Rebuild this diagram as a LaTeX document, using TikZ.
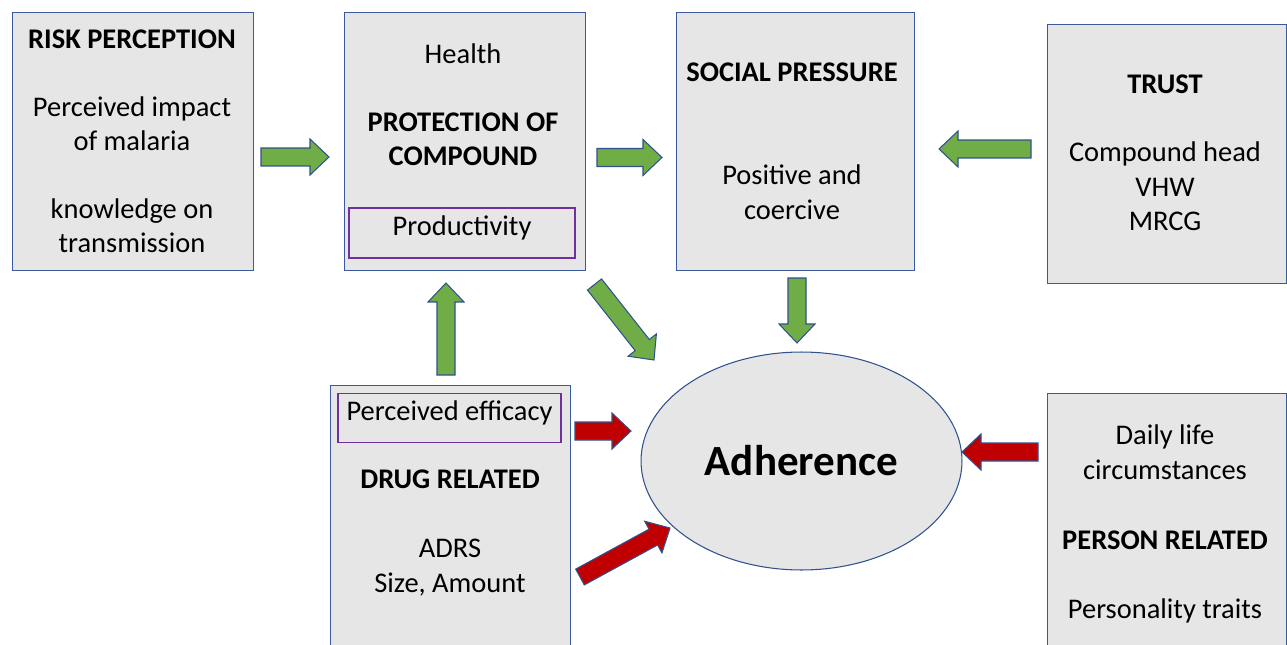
\documentclass[tikz,border=0pt]{standalone}
\usepackage{fontspec}
\setmainfont{Carlito}
\usepackage{tikz}
\usetikzlibrary{calc,shapes.geometric}

\definecolor{boxgray}{HTML}{E7E6E6}
\definecolor{boxblue}{HTML}{3B5A9A}
\definecolor{innerpurple}{HTML}{7030A0}
\definecolor{arrowgreen}{HTML}{70AD47}
\definecolor{arrowred}{HTML}{C00000}
\definecolor{arrowline}{HTML}{2F528F}

\tikzset{
  box/.style={draw=boxblue,fill=boxgray,line width=0.8pt,inner sep=0pt,anchor=north west},
  innerbox/.style={draw=innerpurple,line width=0.8pt,inner sep=0pt,
    text height=0.7em,text depth=0.45em,font=\fontsize{16.2}{19.8}\selectfont},
  lbl/.style={font=\fontsize{16.2}{19.8}\selectfont,align=center,inner sep=0pt,anchor=base},
  blockarrow/.style={draw=arrowline,line width=0.6pt,to path={
    ($(\tikztostart)!0.18cm!90:(\tikztotarget)$)
    -- ($(\tikztotarget)!0.38cm!(\tikztostart)!0.18cm!90:(\tikztotarget)$)
    -- ($(\tikztotarget)!0.38cm!(\tikztostart)!0.36cm!90:(\tikztotarget)$)
    -- (\tikztotarget)
    -- ($(\tikztotarget)!0.38cm!(\tikztostart)!0.36cm!-90:(\tikztotarget)$)
    -- ($(\tikztotarget)!0.38cm!(\tikztostart)!0.18cm!-90:(\tikztotarget)$)
    -- ($(\tikztostart)!0.18cm!-90:(\tikztotarget)$) -- cycle}},
  garrow/.style={blockarrow,fill=arrowgreen},
  rarrow/.style={blockarrow,fill=arrowred}
}

\begin{document}
\begin{tikzpicture}[x=0.02cm,y=-0.02cm]
  \useasboundingbox (0,0) rectangle (1287,645);

  % Boxes
  \node[box,minimum width=4.82cm,minimum height=5.16cm] (risk) at (12,12) {};
  \node[box,minimum width=4.82cm,minimum height=5.16cm] (protection) at (344,12) {};
  \node[box,minimum width=4.76cm,minimum height=5.16cm] (social) at (676,12) {};
  \node[box,minimum width=4.78cm,minimum height=5.18cm] (trust) at (1047,24) {};
  \node[box,minimum width=4.80cm,minimum height=5.60cm] (drug) at (330,385) {};
  \node[box,minimum width=4.78cm,minimum height=5.60cm] (person) at (1047,393) {};

  % Adherence
  \node[draw=arrowline,fill=boxgray,ellipse,line width=0.6pt,inner sep=0pt,
        minimum width=6.42cm,minimum height=4.36cm,
        font=\fontsize{24.5}{30}\selectfont\bfseries] (adherence) at (801.5,461) {Adherence};

  % Risk perception (base = last line)
  \node[lbl,font=\fontsize{16.2}{19.8}\selectfont\bfseries] (riskhead) at (132,49) {RISK PERCEPTION};
  \node[lbl] (riskimpact) at (132,151) {Perceived impact\\of malaria};
  \node[lbl] (riskknow) at (132,253) {knowledge on\\transmission};

  % Protection of compound
  \node[lbl] (health) at (463,64) {Health};
  \node[lbl,font=\fontsize{16.2}{19.8}\selectfont\bfseries] (prothead) at (463,166) {PROTECTION OF\\COMPOUND};
  \node[innerbox,minimum width=4.52cm,minimum height=1.0cm] (productivity) at (462,233) {Productivity};

  % Social pressure
  \node[lbl,font=\fontsize{16.2}{19.8}\selectfont\bfseries] (socialhead) at (792,82) {SOCIAL PRESSURE};
  \node[lbl] (positive) at (792,219) {Positive and\\coercive};

  % Trust
  \node[lbl,font=\fontsize{16.2}{19.8}\selectfont\bfseries] (trusthead) at (1165,94) {TRUST};
  \node[lbl] (trustwho) at (1165,231) {Compound head\\VHW\\MRCG};

  % Drug related
  \node[innerbox,minimum width=4.46cm,minimum height=0.98cm] (efficacy) at (449.5,418) {Perceived efficacy};
  \node[lbl,font=\fontsize{16.2}{19.8}\selectfont\bfseries] (drughead) at (450,488) {DRUG RELATED};
  \node[lbl] (adrs) at (450,592) {ADRS\\Size, Amount};

  % Person related
  \node[lbl] (daily) at (1165,479) {Daily life\\circumstances};
  \node[lbl,font=\fontsize{16.2}{19.8}\selectfont\bfseries] (personhead) at (1165,549) {PERSON RELATED};
  \node[lbl] (traits) at (1165,618) {Personality traits};

  % Arrow ends
  \coordinate (g1s) at (261,157);   \coordinate (g1e) at (329,157);
  \coordinate (g2s) at (597,157.5); \coordinate (g2e) at (662,157.5);
  \coordinate (g3s) at (1031,149);  \coordinate (g3e) at (939,149);
  \coordinate (g4s) at (446,375);   \coordinate (g4e) at (446,283);
  \coordinate (g5s) at (594.5,284.5); \coordinate (g5e) at (654,360);
  \coordinate (g6s) at (797,278);   \coordinate (g6e) at (797,343);
  \coordinate (r1s) at (575,431);   \coordinate (r1e) at (631,431);
  \coordinate (r2s) at (580,577);   \coordinate (r2e) at (670,528);
  \coordinate (r3s) at (1038,452);  \coordinate (r3e) at (962,452);

  % Arrows
  \draw[garrow] (g1s) to (g1e);
  \draw[garrow] (g2s) to (g2e);
  \draw[garrow] (g3s) to (g3e);
  \draw[garrow] (g4s) to (g4e);
  \draw[garrow] (g5s) to (g5e);
  \draw[garrow] (g6s) to (g6e);
  \draw[rarrow] (r1s) to (r1e);
  \draw[rarrow] (r2s) to (r2e);
  \draw[rarrow] (r3s) to (r3e);
\end{tikzpicture}
\end{document}
